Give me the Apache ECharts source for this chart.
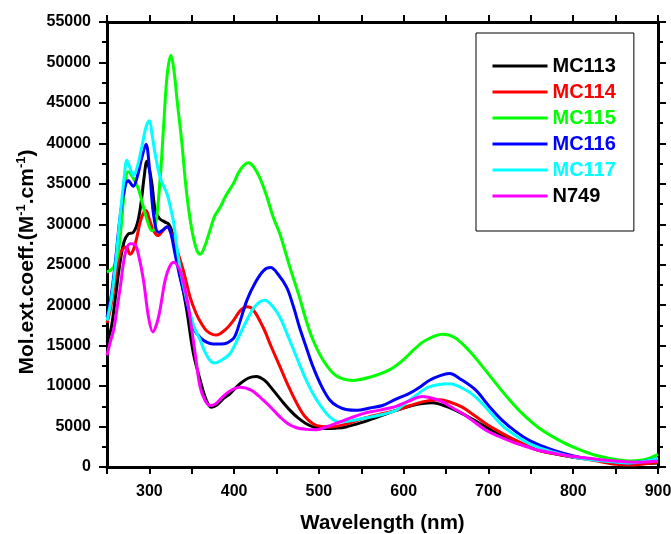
<!DOCTYPE html>
<html>
<head>
<meta charset="utf-8">
<script src="https://cdn.jsdelivr.net/npm/echarts@6/dist/echarts.min.js"></script>
<style>
  html, body { margin: 0; padding: 0; background: #fff; }
  #chart { width: 671px; height: 534px; }
</style>
</head>
<body>
<div id="chart"></div>
<script>
// Absorption spectra: [wavelength (nm), molar extinction coefficient (M^-1 cm^-1)]
const mc113 = [
  [250,15400],[255,17200],[260,21000],[265,25000],[270,27800],[275,28800],[281,29000],[286,30200],
  [290,32500],[294,36000],[297,37800],[300,36800],[303,35000],[307,31700],[312,30700],[318,30300],
  [323,30000],[327,29000],[331,27000],[336,24000],[344,19400],[352,14000],[360,10700],[367,8300],
  [373,7400],[380,7700],[388,8500],[395,9050],[407,10300],[417,11000],[426,11200],[436,10700],
  [446,9500],[456,8200],[466,7000],[475,6100],[485,5350],[495,4900],[505,4750],[520,4800],
  [532,4950],[552,5550],[570,6200],[591,7000],[610,7600],[622,7850],[634,7950],[650,7500],
  [669,6600],[683,5800],[697,4950],[712,4100],[728,3300],[745,2600],[759,2060],[780,1600],
  [798,1240],[825,900],[850,620],[875,450],[900,500]
];
const mc114 = [
  [250,17800],[254,19500],[258,22000],[262,24800],[266,26500],[270,27100],[273,27200],[277,26300],
  [281,26800],[285,28300],[289,30200],[293,31400],[296,31700],[300,30600],[305,29200],[310,28600],
  [316,29200],[321,29700],[326,28800],[332,27000],[340,24300],[348,21000],[355,19000],[361,17800],
  [368,16800],[379,16300],[390,17000],[399,18100],[407,19300],[415,19800],[422,19500],[434,17300],
  [444,14800],[454,12400],[464,10000],[474,7850],[483,6300],[493,5350],[503,5000],[513,4950],
  [530,5250],[552,6000],[571,6500],[591,7000],[608,7600],[622,8050],[643,8300],[655,8000],
  [669,7400],[683,6400],[697,5350],[712,4400],[728,3500],[745,2700],[759,2060],[780,1600],
  [800,1240],[825,800],[850,330],[870,250],[885,400],[900,600]
];
const mc115 = [
  [250,24100],[255,24400],[259,24900],[263,26300],[267,30000],[271,34500],[275,36500],[281,35700],
  [287,34400],[293,32100],[298,30300],[303,29200],[306,29400],[309,31200],[313,36000],[317,42500],
  [321,48500],[325.5,50900],[329,49000],[333,45000],[338,40400],[342,35800],[346,32100],[351,28800],
  [356,26800],[360,26300],[365,27200],[371.6,29300],[377,31000],[383.5,32100],[390,33500],[399,35000],
  [407,36700],[416.6,37600],[423,37100],[430,35800],[438,33600],[446,30900],[454,28800],[465.7,24700],
  [477,21000],[485,18100],[493,15700],[505,13200],[520,11300],[540,10700],[560,11100],[583,12000],
  [598,13100],[611,14400],[625,15600],[646,16400],[660,16000],[677,14400],[693,12400],[709,10300],
  [724,8400],[740,6600],[760,4800],[787,3100],[806,2200],[826,1450],[846,1000],[866,750],
  [880,850],[890,1100],[900,1550]
];
const mc116 = [
  [250,18500],[255,21200],[260,25500],[265,30500],[270,34000],[275,35400],[281,34700],[286,36000],
  [291,38200],[296,39900],[300,37000],[304.8,31300],[310.7,29000],[316,29300],[321,29700],[325,29000],
  [330,26500],[336,23500],[342,21000],[348,18500],[354,16800],[360,16000],[368,15400],[375,15200],
  [385,15200],[391,15300],[400,16000],[407,18000],[415,20600],[425,22800],[435,24300],[443,24650],
  [452,23800],[462,22200],[470,19800],[477,17300],[485,14800],[493,12400],[503,10000],[513,8250],
  [522,7500],[532,7100],[545,7000],[560,7300],[575,7600],[591,8400],[605,9000],[618,9800],
  [630,10700],[643,11300],[654,11550],[668,10800],[685,9500],[700,7600],[716,5800],[732,4400],
  [748,3300],[768,2400],[787,1750],[806,1250],[826,900],[846,650],[866,500],[885,700],[900,1050]
];
const mc117 = [
  [250,18100],[255,20700],[260,25000],[265,30500],[270,35500],[273.5,37900],[277,37000],[281,36000],
  [286,37200],[291,39500],[296,42000],[300,42800],[303,41200],[306.8,38700],[312.7,35800],[320.6,33800],
  [324,32500],[328.4,30300],[332,27500],[336,24700],[342,21600],[348,19000],[354,17000],[359.8,15700],
  [366,14100],[372,13100],[377,12850],[385,13200],[395,14000],[405,16000],[414.7,18100],[425,19900],
  [436,20600],[445,19900],[454,18500],[463,16300],[473.5,13600],[483,11200],[493,9050],[503,7400],
  [512.7,6200],[524,5550],[537,5700],[551.8,6000],[571,6400],[591,7000],[600,7700],[615,8900],
  [630,9900],[654,10300],[670,9700],[685,8650],[700,7000],[716,5150],[732,3900],[748,2900],
  [768,2100],[787,1550],[806,1100],[826,830],[846,650],[866,500],[885,700],[900,1050]
];
const n749 = [
  [250,13800],[254,15500],[257.8,16900],[261,19000],[265.6,22200],[271.5,26400],[277.4,27600],[283,27500],
  [287,26300],[293,23100],[299,18500],[304,16700],[310.7,18500],[318.6,23100],[324,24800],[329,25300],
  [336,24300],[341,22500],[346,19800],[350,17000],[354,14000],[359.8,9900],[365.6,8250],[371.6,7600],
  [378,7800],[385,8500],[395,9400],[407,9850],[420,9500],[434,8300],[444,7300],[454,6200],
  [464,5300],[473.5,4850],[485,4650],[497,4600],[510,5000],[524,5550],[538,6100],[552,6600],
  [570,7000],[591,7500],[605,8100],[622.5,8700],[634,8500],[646,8050],[658,7300],[669.5,6600],
  [683,5600],[697,4550],[712,3800],[728,3100],[745,2500],[759,2060],[780,1650],[798,1330],
  [825,1000],[850,750],[875,600],[900,750]
];

const seriesNames = ['MC113', 'MC114', 'MC115', 'MC116', 'MC117', 'N749'];
const seriesData = [mc113, mc114, mc115, mc116, mc117, n749];
const lineColors = ['#000000', '#ff0000', '#00ff00', '#0000ff', '#00ffff', '#ff00ff'];
const legendTextColors = ['#000000', '#ff0000', '#00ff00', '#0000ff', '#00ffff', '#000000'];

// Axis ranges and the wavelengths that carry a tick label
const xMin = 250, xMax = 900, xTickStep = 50;
const xLabelValues = [300, 400, 500, 600, 700, 800, 900];
const yMin = 0, yMax = 55000, yTickStep = 5000;

const FONT = '"Liberation Sans", Arial, sans-serif';
const axisLineStyle = { color: '#000', width: 3 };
const tickStyle = { color: '#000', width: 2 };

const chart = echarts.init(document.getElementById('chart'), null, { renderer: 'canvas' });

function xAxisDef(position) {
  const bottom = position === 'bottom';
  return {
    type: 'value', position: position, min: xMin, max: xMax, interval: xTickStep,
    axisLine: { show: true, onZero: false, lineStyle: axisLineStyle },
    axisTick: { show: true, inside: false, length: 7, lineStyle: tickStyle },
    axisLabel: {
      show: bottom, margin: 17, color: '#000', fontFamily: FONT, fontSize: 16, fontWeight: 'bold',
      formatter: v => (xLabelValues.indexOf(v) >= 0 ? String(v) : '')
    },
    splitLine: { show: false },
    name: bottom ? 'Wavelength (nm)' : '',
    nameLocation: 'middle', nameGap: 46,
    nameTextStyle: { color: '#000', fontFamily: FONT, fontSize: 20.5, fontWeight: 'bold' }
  };
}

function yAxisDef(position) {
  const left = position === 'left';
  return {
    type: 'value', position: position, min: yMin, max: yMax, interval: yTickStep,
    axisLine: { show: true, onZero: false, lineStyle: axisLineStyle },
    axisTick: { show: true, inside: false, length: 8, lineStyle: tickStyle },
    minorTick: { show: true, splitNumber: 2, length: 5, lineStyle: tickStyle },
    axisLabel: {
      show: left, margin: 16, color: '#000', fontFamily: FONT, fontSize: 16, fontWeight: 'bold',
      formatter: v => String(v)
    },
    splitLine: { show: false },
    minorSplitLine: { show: false }
  };
}

chart.setOption({
  animation: false,
  backgroundColor: '#fff',
  grid: { left: 107, right: 13, top: 22, bottom: 67, containLabel: false, outerBoundsMode: 'none' },
  xAxis: [xAxisDef('bottom'), xAxisDef('top')],
  yAxis: [yAxisDef('left'), yAxisDef('right')],
  legend: {
    orient: 'vertical', left: 476, top: 33,
    padding: [23, 18, 25, 15],
    itemWidth: 55, itemHeight: 20, itemGap: 6,
    borderColor: '#000', borderWidth: 1,
    selectedMode: false,
    itemStyle: { opacity: 0 },
    lineStyle: { width: 3 },
    textStyle: { fontFamily: FONT, fontSize: 20, fontWeight: 'bold' },
    data: seriesNames.map((n, i) => ({ name: n, textStyle: { color: legendTextColors[i] } }))
  },
  graphic: [{
    type: 'text', x: 27, y: 262, rotation: Math.PI / 2,
    style: {
      text: 'Mol.ext.coeff.(M{s|-1}.cm{s|-1})',
      fill: '#000', font: 'bold 21px ' + FONT,
      align: 'center', verticalAlign: 'middle',
      rich: { s: { fontSize: 13, fontWeight: 'bold', fontFamily: FONT, verticalAlign: 'top', lineHeight: 24 } }
    }
  }],
  series: seriesNames.map((n, i) => ({
    name: n, type: 'line', data: seriesData[i],
    smooth: 0.35, symbol: 'none', showSymbol: false,
    clip: true,
    lineStyle: { color: lineColors[i], width: 3 },
    itemStyle: { color: lineColors[i] }
  }))
});
</script>
</body>
</html>
